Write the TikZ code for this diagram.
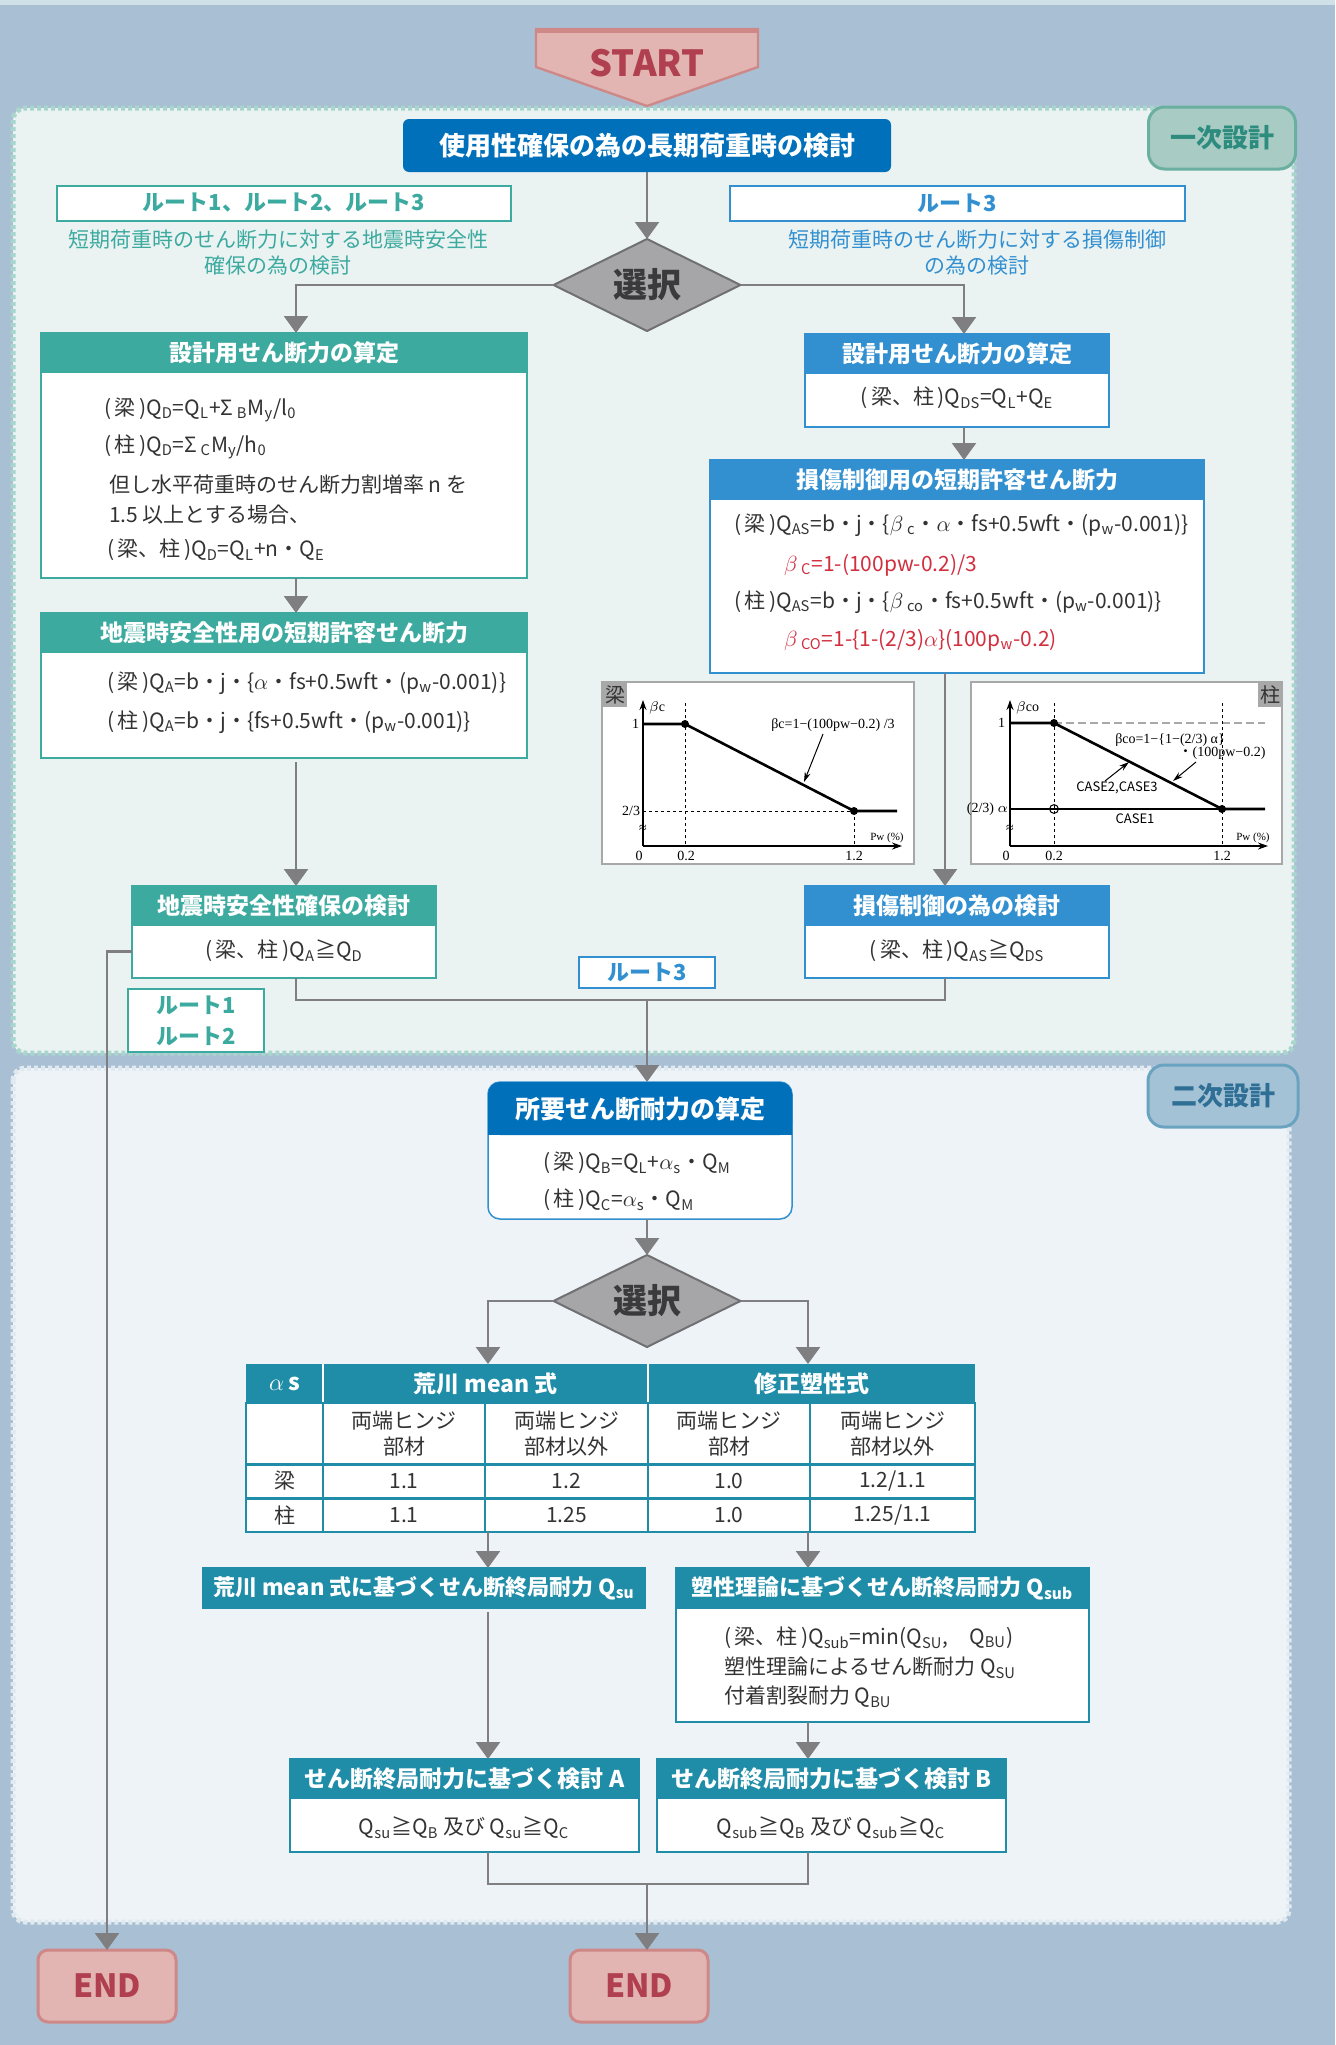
\documentclass[tikz,border=0pt]{standalone}
\usepackage{fontspec}
\setmainfont{Noto Sans CJK JP}
\newfontfamily\graphfont{Liberation Serif}
\newcommand*{\titlefont}{\fontsize{13}{15}\selectfont\bfseries}
\newcommand*{\headfont}{\fontsize{11.5}{13}\selectfont\bfseries}
\newcommand*{\bodyfont}{\fontsize{10.5}{13}\selectfont}
\newcommand*{\routefont}{\fontsize{11}{15.5}\selectfont\bfseries}
\newcommand*{\gfont}{\graphfont\fontsize{7}{8}\selectfont}
\newcommand*{\sbs}[1]{\textsubscript{#1}}
\definecolor{bg}{HTML}{A9C0D4}
\definecolor{topstrip}{HTML}{CFE0E6}
\definecolor{panelA}{HTML}{EAF3F2}
\definecolor{panelAline}{HTML}{A9D6CC}
\definecolor{panelB}{HTML}{EDF3F7}
\definecolor{panelBline}{HTML}{DFE9EF}
\definecolor{tealH}{HTML}{3DAAA0}
\definecolor{blueH}{HTML}{3390D0}
\definecolor{blueD}{HTML}{0070BB}
\definecolor{tabH}{HTML}{1F8CA8}
\definecolor{arrowgrey}{HTML}{7F7F82}
\definecolor{txtc}{HTML}{333333}
\definecolor{redtxt}{HTML}{D22F3F}
\definecolor{startfill}{HTML}{E2B5B2}
\definecolor{startline}{HTML}{CF8888}
\definecolor{starttxt}{HTML}{B0404F}
\definecolor{tagA}{HTML}{A8CCC4}
\definecolor{tagAline}{HTML}{6AAF9F}
\definecolor{tagAtxt}{HTML}{2E8C7E}
\definecolor{tagB}{HTML}{A4C2D6}
\definecolor{tagBline}{HTML}{6AA3C0}
\definecolor{tagBtxt}{HTML}{2F6F95}
\definecolor{selfill}{HTML}{A6A6A8}
\definecolor{selline}{HTML}{707074}
\definecolor{seltxt}{HTML}{3A3A3C}
\definecolor{gframe}{HTML}{A8A8A8}
\usetikzlibrary{arrows.meta}
\usetikzlibrary{shapes.geometric}
\tikzstyle{base}=[inner sep=0pt, outer sep=0pt]
\tikzstyle{hdteal}=[base, anchor=north west, fill=tealH, draw=tealH, line width=0.75pt, text=white, font=\headfont]
\tikzstyle{bdteal}=[base, anchor=north west, fill=white, draw=tealH, line width=0.75pt]
\tikzstyle{hdblue}=[hdteal, fill=blueH, draw=blueH]
\tikzstyle{bdblue}=[bdteal, draw=blueH]
\tikzstyle{hdtab}=[hdteal, fill=tabH, draw=tabH]
\tikzstyle{bdtab}=[bdteal, draw=tabH]
\tikzstyle{line}=[base, anchor=west, text=txtc, font=\bodyfont]
\tikzstyle{cline}=[base, text=txtc, font=\bodyfont]
\tikzstyle{arr}=[draw=arrowgrey, line width=1.2pt, -{Triangle[width=12pt,length=8.5pt]}]
\tikzstyle{link}=[draw=arrowgrey, line width=1.2pt]
\tikzstyle{select}=[base, diamond, aspect=2, fill=selfill, draw=selline, line width=1pt, minimum width=93.5pt, minimum height=46pt, text=seltxt, font=\fontsize{17}{17}\selectfont\bfseries]
\tikzstyle{endbox}=[base, rounded corners=5pt, fill=startfill, draw=startline, line width=1.5pt, minimum width=69pt, minimum height=36pt, text=starttxt, font=\fontsize{16}{16}\selectfont\bfseries]
\tikzstyle{routebox}=[base, fill=white, line width=1pt, font=\routefont, align=center]
\tikzstyle{axis}=[line width=0.7pt, -{Stealth[length=5pt,width=3.5pt]}]
\tikzstyle{guide}=[line width=0.4pt, dash pattern=on 1.5pt off 1.5pt]
\tikzstyle{curve}=[line width=1.3pt]
\tikzstyle{glabel}=[base, text=black, font=\gfont]
\tikzstyle{cell}=[base, text=txtc, font=\bodyfont, align=center]

\begin{document}
\begin{tikzpicture}[x=0.5pt, y=-0.5pt]
    % background
    \fill[bg] (0,0) rectangle (1335,2045);
    \fill[topstrip] (0,0) rectangle (1335,5);
    \useasboundingbox (0,0) rectangle (1335,2045);
    \draw[panelAline, fill=panelA, line width=2.5pt, dash pattern=on 2pt off 1.5pt, rounded corners=6pt] (13,108) rectangle (1294,1053);
    \draw[panelBline, fill=panelB, line width=2.5pt, dash pattern=on 2pt off 1.5pt, rounded corners=6pt] (13,1068) rectangle (1289,1922);
    \node[base, rounded corners=8pt, fill=tagA, draw=tagAline, line width=1.5pt, minimum width=73.5pt, minimum height=31pt, text=tagAtxt, font=\fontsize{13}{13}\selectfont\bfseries] (tag1) at (1222,138) {一次設計};
    \node[base, rounded corners=8pt, fill=tagB, draw=tagBline, line width=1.5pt, minimum width=75pt, minimum height=31pt, text=tagBtxt, font=\fontsize{13}{13}\selectfont\bfseries] (tag2) at (1223,1096) {二次設計};

    % start
    \draw[startline, fill=startfill, line width=1.2pt] (536,29) -- (758,29) -- (758,67) -- (647,106) -- (536,67) -- cycle;
    \draw[startline, line width=2.5pt] (536,30) -- (758,30);
    \node[base, text=starttxt, font=\fontsize{18}{18}\selectfont\bfseries] (start) at (647,63) {START};

    % first design
    \node[base, rounded corners=3pt, fill=blueD, minimum width=244pt, minimum height=26.5pt, text=white, font=\titlefont] (title) at (647,145.5) {使用性確保の為の長期荷重時の検討};
    \node[select] (sel1) at (647,285) {選択};
    \node[routebox, draw=tealH, text=tealH, minimum width=227pt, minimum height=17.5pt] (routeL) at (284,203) {ルート1、ルート2、ルート3};
    \node[routebox, draw=blueH, text=blueH, minimum width=227.5pt, minimum height=17.5pt] (routeR) at (957,203) {ルート3};
    \node[base, text=tealH, font=\bodyfont, align=center] (capL) at (278,253) {短期荷重時のせん断力に対する地震時安全性\\確保の為の検討};
    \node[base, text=blueH, font=\bodyfont, align=center] (capR) at (977,253) {短期荷重時のせん断力に対する損傷制御\\の為の検討};
    \coordinate (colL) at (296,0);
    \coordinate (colR) at (964,0);
    \coordinate (colM) at (945,0);

    % left column
    \node[hdteal, minimum width=243pt, minimum height=19.5pt] (hdDesL) at (41,333) {設計用せん断力の算定};
    \node[bdteal, minimum width=243pt, minimum height=103pt] (bdDesL) at (41,372) {};
    \node[line] (desL1) at (104,410) {(\,梁\,)Q\sbs{D}=Q\sbs{L}+Σ\,\sbs{B}M\sbs{y}/l\sbs{0}};
    \node[line] (desL2) at (104,447) {(\,柱\,)Q\sbs{D}=Σ\,\sbs{C}M\sbs{y}/h\sbs{0}};
    \node[line] (desL3) at (109,485) {但し水平荷重時のせん断力割増率 n を};
    \node[line] (desL4) at (109,515) {1.5 以上とする場合、};
    \node[line] (desL5) at (107,550) {(\,梁、柱\,)Q\sbs{D}=Q\sbs{L}+n・Q\sbs{E}};
    \node[hdteal, minimum width=243pt, minimum height=19.5pt] (hdAllowL) at (41,613) {地震時安全性用の短期許容せん断力};
    \node[bdteal, minimum width=243pt, minimum height=53pt] (bdAllowL) at (41,652) {};
    \node[line] (allowL1) at (107,683) {(\,梁\,)Q\sbs{A}=b・j・\{$\alpha$・fs+0.5wft・(p\sbs{w}-0.001)\}};
    \node[line] (allowL2) at (107,722) {(\,柱\,)Q\sbs{A}=b・j・\{fs+0.5wft・(p\sbs{w}-0.001)\}};
    \node[hdteal, minimum width=152pt, minimum height=19.5pt] (hdChkL) at (132,886) {地震時安全性確保の検討};
    \node[bdteal, minimum width=152pt, minimum height=26.5pt] (bdChkL) at (132,925) {};
    \node[cline] (chkL1) at (284,951) {(\,梁、柱\,)Q\sbs{A}≧Q\sbs{D}};

    % right column
    \node[hdblue, minimum width=152pt, minimum height=19.5pt] (hdDesR) at (805,334) {設計用せん断力の算定};
    \node[bdblue, minimum width=152pt, minimum height=27pt] (bdDesR) at (805,373) {};
    \node[cline] (desR1) at (957,398) {(\,梁、柱\,)Q\sbs{DS}=Q\sbs{L}+Q\sbs{E}};
    \node[hdblue, minimum width=247pt, minimum height=19.5pt] (hdDmgR) at (710,460) {損傷制御用の短期許容せん断力};
    \node[bdblue, minimum width=247pt, minimum height=87pt] (bdDmgR) at (710,499) {};
    \node[line] (dmgR1) at (734,525) {(\,梁\,)Q\sbs{AS}=b・j・\{$\beta$\,\sbs{c}・$\alpha$・fs+0.5wft・(p\sbs{w}-0.001)\}};
    \node[line, text=redtxt] (dmgR2) at (784,565) {$\beta$\,\sbs{C}=1-(100pw-0.2)/3};
    \node[line] (dmgR3) at (734,602) {(\,柱\,)Q\sbs{AS}=b・j・\{$\beta$\,\sbs{co}・fs+0.5wft・(p\sbs{w}-0.001)\}};
    \node[line, text=redtxt] (dmgR4) at (784,640) {$\beta$\,\sbs{CO}=1-\{1-(2/3)$\alpha$\}(100p\sbs{w}-0.2)};
    \node[hdblue, minimum width=152pt, minimum height=19.5pt] (hdChkR) at (805,886) {損傷制御の為の検討};
    \node[bdblue, minimum width=152pt, minimum height=26.5pt] (bdChkR) at (805,925) {};
    \node[cline] (chkR1) at (957,951) {(\,梁、柱\,)Q\sbs{AS}≧Q\sbs{DS}};

    % graph beam
    \draw[gframe, fill=white, line width=0.75pt] (602,682) rectangle (914,864);
    \fill[gframe] (603,683) rectangle (627,707);
    \node[base, text=txtc, font=\fontsize{10}{10}\selectfont] (gtag1) at (615,695) {梁};
    \draw[guide] (685,703) -- (685,846);
    \draw[guide] (854,811) -- (854,846);
    \draw[guide] (643,811) -- (854,811);
    \draw[axis] (643,846) -- (643,700);
    \draw[axis] (643,846) -- (902,846);
    \draw[curve] (643,724) -- (685,724) -- (854,811) -- (897,811);
    \fill (685,724) circle (2pt);
    \fill (854,811) circle (2pt);
    \node[glabel, anchor=west] (gb1) at (649,708) {$\beta$c};
    \node[glabel, anchor=east] (gb2) at (639,724) {1};
    \node[glabel, anchor=east] (gb3) at (640,811) {2/3};
    \node[glabel] (gb4) at (643,829) {≈};
    \node[glabel] (gb5) at (639,856) {0};
    \node[glabel] (gb6) at (686,856) {0.2};
    \node[glabel] (gb7) at (854,856) {1.2};
    \node[glabel, font=\graphfont\fontsize{5.5}{6}\selectfont] (gb8) at (887,838) {Pw (\%)};
    \node[glabel] (gb9) at (833,725) {βc=1−(100pw−0.2) /3};
    \draw[line width=0.5pt, -{Stealth[length=5pt,width=3pt]}] (823,734) -- (804,782);

    % graph column
    \draw[gframe, fill=white, line width=0.75pt] (971,682) rectangle (1282,864);
    \fill[gframe] (1258,683) rectangle (1282,707);
    \node[base, text=txtc, font=\fontsize{10}{10}\selectfont] (gtag2) at (1270,695) {柱};
    \draw[gframe, line width=0.8pt, dash pattern=on 4pt off 2pt] (1054,723) -- (1265,723);
    \draw[guide] (1054,703) -- (1054,846);
    \draw[guide] (1222,703) -- (1222,846);
    \draw[line width=0.6pt] (1010,809) -- (1222,809);
    \draw[line width=0.5pt] (1054,809) circle (2.2pt);
    \draw[axis] (1010,846) -- (1010,700);
    \draw[axis] (1010,846) -- (1268,846);
    \draw[curve] (1010,723) -- (1054,723) -- (1222,809) -- (1265,809);
    \fill (1054,723) circle (2pt);
    \fill (1222,809) circle (2pt);
    \node[glabel, anchor=west] (gc1) at (1016,708) {$\beta$co};
    \node[glabel, anchor=east] (gc2) at (1005,723) {1};
    \node[glabel, anchor=east] (gc3) at (1008,809) {(2/3) $\alpha$};
    \node[glabel] (gc4) at (1010,829) {≈};
    \node[glabel] (gc5) at (1006,856) {0};
    \node[glabel] (gc6) at (1054,856) {0.2};
    \node[glabel] (gc7) at (1222,856) {1.2};
    \node[glabel, font=\graphfont\fontsize{5.5}{6}\selectfont] (gc8) at (1253,838) {Pw (\%)};
    \node[glabel] (gc9) at (1170,740) {βco=1−\{1−(2/3) α\}};
    \node[glabel] (gc10) at (1222,753) {{\fontspec{Noto Sans CJK JP}・}(100pw−0.2)};
    \node[base, text=black, font=\fontsize{6.5}{7}\selectfont] (gc11) at (1117,788) {CASE2,CASE3};
    \node[base, text=black, font=\fontsize{6.5}{7}\selectfont] (gc12) at (1135,819) {CASE1};
    \draw[line width=0.5pt, -{Stealth[length=5pt,width=3pt]}] (1196,762) -- (1173,781);
    \draw[line width=0.5pt, -{Stealth[length=5pt,width=3pt]}] (1105,781) -- (1129,762);

    % route labels
    \node[routebox, draw=blueH, text=blueH, minimum width=68pt, minimum height=15.5pt] (route3) at (647,972.5) {ルート3};
    \node[routebox, draw=tealH, text=tealH, minimum width=68pt, minimum height=31.5pt] (route12) at (196,1020.5) {ルート1\\ルート2};

    % second design
    \node[bdblue, rounded corners=6pt, minimum width=152pt, minimum height=68.5pt] (bdReq) at (488,1082) {};
    \node[base, anchor=north west, rounded corners=6pt, fill=blueD, minimum width=152pt, minimum height=26.5pt] (hdReqBox) at (488,1082) {};
    \fill[blueD] (hdReqBox.south west) rectangle ([yshift=8pt]hdReqBox.south east);
    \node[base, text=white, font=\fontsize{12.5}{13}\selectfont\bfseries] (hdReq) at (hdReqBox.center) {所要せん断耐力の算定};
    \node[line] (req1) at (543,1163) {(\,梁\,)Q\sbs{B}=Q\sbs{L}+$\alpha$\sbs{s}・Q\sbs{M}};
    \node[line] (req2) at (543,1200) {(\,柱\,)Q\sbs{C}=$\alpha$\sbs{s}・Q\sbs{M}};
    \node[select] (sel2) at (647,1301) {選択};
    \coordinate (tabTL) at (488,1364);
    \coordinate (tabTR) at (808,1364);
    \coordinate (tabBL) at (488,1532);
    \coordinate (tabBR) at (808,1532);

    % table
    \fill[tabH] (246,1364) rectangle (975,1403);
    \draw[white, line width=1pt] (323,1364) -- (323,1403);
    \draw[white, line width=1pt] (648,1364) -- (648,1403);
    \draw[tabH, fill=white, line width=1pt] (246,1403) rectangle (975,1532);
    \draw[tabH, line width=1.5pt] (246,1464) -- (975,1464);
    \draw[tabH, line width=1.5pt] (246,1498) -- (975,1498);
    \draw[tabH, line width=1pt] (323,1403) -- (323,1532);
    \draw[tabH, line width=1pt] (485,1403) -- (485,1532);
    \draw[tabH, line width=1pt] (648,1403) -- (648,1532);
    \draw[tabH, line width=1pt] (810,1403) -- (810,1532);
    \node[base, text=white, font=\headfont] (tabA) at (284.5,1383.5) {$\alpha$\,s};
    \node[base, text=white, font=\headfont] (tabB) at (485.5,1383.5) {荒川 mean 式};
    \node[base, text=white, font=\headfont] (tabC) at (811.5,1383.5) {修正塑性式};
    \node[cell] (sub1) at (404,1433.5) {両端ヒンジ\\部材};
    \node[cell] (sub2) at (566.5,1433.5) {両端ヒンジ\\部材以外};
    \node[cell] (sub3) at (729,1433.5) {両端ヒンジ\\部材};
    \node[cell] (sub4) at (892.5,1433.5) {両端ヒンジ\\部材以外};
    \node[cell] (beam0) at (284.5,1481) {梁};
    \node[cell] (beam1) at (404,1481) {1.1};
    \node[cell] (beam2) at (566.5,1481) {1.2};
    \node[cell] (beam3) at (729,1481) {1.0};
    \node[cell] (beam4) at (892.5,1481) {1.2/1.1};
    \node[cell] (col0) at (284.5,1515) {柱};
    \node[cell] (col1) at (404,1515) {1.1};
    \node[cell] (col2) at (566.5,1515) {1.25};
    \node[cell] (col3) at (729,1515) {1.0};
    \node[cell] (col4) at (892.5,1515) {1.25/1.1};

    % ultimate strength
    \node[hdtab, font=\fontsize{11}{13}\selectfont\bfseries, minimum width=221pt, minimum height=20pt] (hdQsu) at (203,1568) {荒川 mean 式に基づくせん断終局耐力 Q\sbs{su}};
    \node[hdtab, font=\fontsize{11}{13}\selectfont\bfseries, minimum width=206.5pt, minimum height=20pt] (hdQsub) at (676,1568) {塑性理論に基づくせん断終局耐力 Q\sbs{sub}};
    \node[bdtab, minimum width=206.5pt, minimum height=57pt] (bdQsub) at (676,1608) {};
    \node[line] (qsub1) at (724,1638) {(\,梁、柱\,)Q\sbs{sub}=min(Q\sbs{SU},\quad Q\sbs{BU})};
    \node[line] (qsub2) at (724,1668) {塑性理論によるせん断耐力 Q\sbs{SU}};
    \node[line] (qsub3) at (724,1697) {付着割裂耐力 Q\sbs{BU}};
    \coordinate (colA) at (488,0);
    \coordinate (colB) at (808,0);
    \node[hdtab, minimum width=174.5pt, minimum height=19.5pt] (hdA) at (290,1759) {せん断終局耐力に基づく検討 A};
    \node[bdtab, minimum width=174.5pt, minimum height=27pt] (bdA) at (290,1798) {};
    \node[cline] (chkA) at (464,1828) {Q\sbs{su}≧Q\sbs{B} 及び Q\sbs{su}≧Q\sbs{C}};
    \node[hdtab, minimum width=174.5pt, minimum height=19.5pt] (hdB) at (657,1759) {せん断終局耐力に基づく検討 B};
    \node[bdtab, minimum width=174.5pt, minimum height=27pt] (bdB) at (657,1798) {};
    \node[cline] (chkB) at (831,1828) {Q\sbs{sub}≧Q\sbs{B} 及び Q\sbs{sub}≧Q\sbs{C}};

    % end
    \node[endbox] (endL) at (107,1986) {END};
    \node[endbox] (endR) at (639,1986) {END};
    \coordinate (join1) at (647,1000);
    \coordinate (join2) at (647,1884);

    % connectors
    \draw[arr] (title.south) -- (sel1.north);
    \draw[arr] (sel1.west) -| (hdDesL.north -| colL);
    \draw[arr] (sel1.east) -| (hdDesR.north -| colR);
    \draw[arr] (bdDesL.south -| colL) -- (hdAllowL.north -| colL);
    \draw[arr] ([yshift=-2pt]bdAllowL.south -| colL) -- (hdChkL.north -| colL);
    \draw[arr] (bdDesR.south -| colR) -- (hdDmgR.north -| colR);
    \draw[arr] (bdDmgR.south -| colM) -- (hdChkR.north -| colM);
    \draw[link] (bdChkL.south -| colL) |- (join1) -| (bdChkR.south -| colM);
    \draw[arr] (join1) -- (bdReq.north -| join1);
    \draw[arr] (bdChkL.west) -| (endL.north);
    \draw[arr] (bdReq.south -| sel2.north) -- (sel2.north);
    \draw[arr] (sel2.west) -| (tabTL);
    \draw[arr] (sel2.east) -| (tabTR);
    \draw[arr] (tabBL) -- (hdQsu.north -| tabBL);
    \draw[arr] (tabBR) -- (hdQsub.north -| tabBR);
    \draw[arr] ([yshift=-2pt]hdQsu.south -| colA) -- (hdA.north -| colA);
    \draw[arr] (bdQsub.south -| colB) -- (hdB.north -| colB);
    \draw[link] (bdA.south -| colA) |- (join2) -| (bdB.south -| colB);
    \draw[arr] (join2) -- (endR.north -| join2);
\end{tikzpicture}
\end{document}
